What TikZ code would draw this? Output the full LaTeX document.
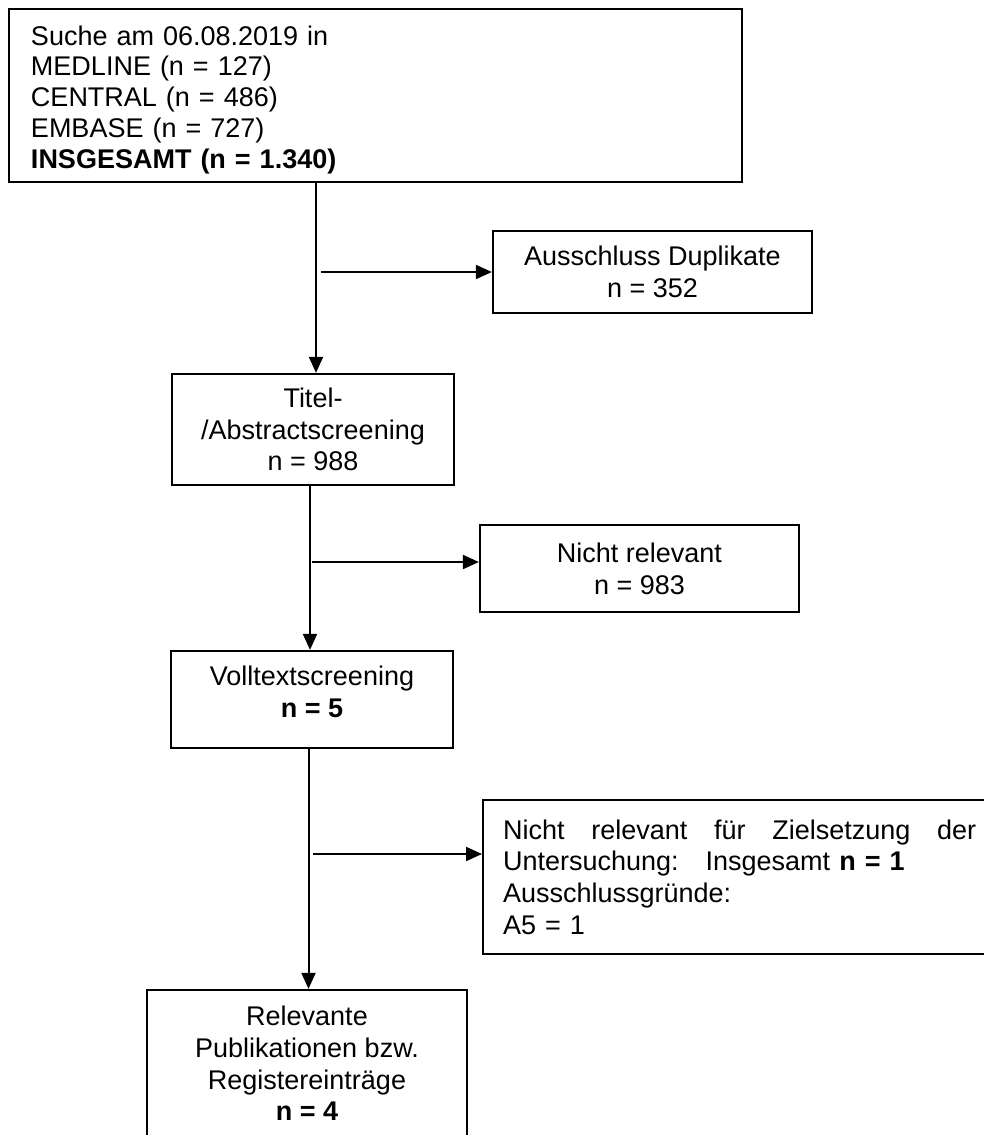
\documentclass[tikz,border=0pt]{standalone}
\usepackage{fontspec}
\setmainfont{Liberation Sans}
\usetikzlibrary{arrows.meta}

\begin{document}
\begin{tikzpicture}[x=0.75pt,y=-0.75pt,
        box/.style={draw,line width=1.7pt,inner sep=0pt,font=\fontsize{20.25}{23.8}\selectfont},
        arr/.style={line width=1.5pt,-{Triangle[length=12pt,width=10.5pt]}}]
        %\draw [help lines] (0,0) grid (983,1135);
        \useasboundingbox (0,0) rectangle (983,1135);

        \node[box,font=\fontsize{20.25}{23.06}\selectfont,minimum width=549.75pt,minimum height=129.75pt,text width=516.75pt,inner xsep=16.5pt,align=left] (suche) at (375.5,95.5)
            {\rule{0pt}{20.8pt}Suche am 06.08.2019 in\\MEDLINE (n = 127)\\CENTRAL (n = 486)\\EMBASE (n = 727)\\\textbf{INSGESAMT (n = 1.340)}};

        \node[box,minimum width=239.25pt,minimum height=61.5pt,align=center] (dup) at (652.5,272) {Ausschluss Duplikate\\n = 352};

        \node[box,minimum width=211.5pt,minimum height=83.25pt,align=center] (titel) at (313,429.5) {Titel-\\/Abstractscreening\\n = 988};

        \node[box,minimum width=239.25pt,minimum height=65.25pt,align=center] (nrel) at (639.5,568.5) {Nicht relevant\\n = 983};

        \node[box,minimum width=211.5pt,minimum height=72.75pt,align=center] (voll) at (312,699.5) {Volltextscreening\\\textbf{n = 5}\rule[-12pt]{0pt}{12pt}};

        \node[box,anchor=north west,minimum height=115.5pt,text width=354.75pt,inner xsep=15pt,align=left] (ziel) at (482,799)
            {Nicht\hfill relevant\hfill für\hfill Zielsetzung\hfill der\\Untersuchung:\ \ \ Insgesamt \textbf{n = 1}\\Ausschlussgründe:\\A5 = 1};

        \node[box,minimum width=240pt,minimum height=116.25pt,align=center] (rel) at (307,1067.5) {Relevante\\Publikationen bzw.\\Registereinträge\\\textbf{n = 4}\rule[-6pt]{0pt}{6pt}};

        \coordinate (k1) at (316,272);
        \draw[arr] (suche.south -| k1) -- (titel.north -| k1);
        \draw[arr] ([xshift=3.5pt]k1) -- (k1 -| dup.west);

        \coordinate (k2) at (310,562);
        \draw[arr] (titel.south -| k2) -- (voll.north -| k2);
        \draw[arr] ([xshift=1.5pt]k2) -- (k2 -| nrel.west);

        \coordinate (k3) at (308.5,854);
        \draw[arr] (voll.south -| k3) -- (rel.north -| k3);
        \draw[arr] ([xshift=3.5pt]k3) -- (k3 -| ziel.west);
    \end{tikzpicture}
\end{document}
